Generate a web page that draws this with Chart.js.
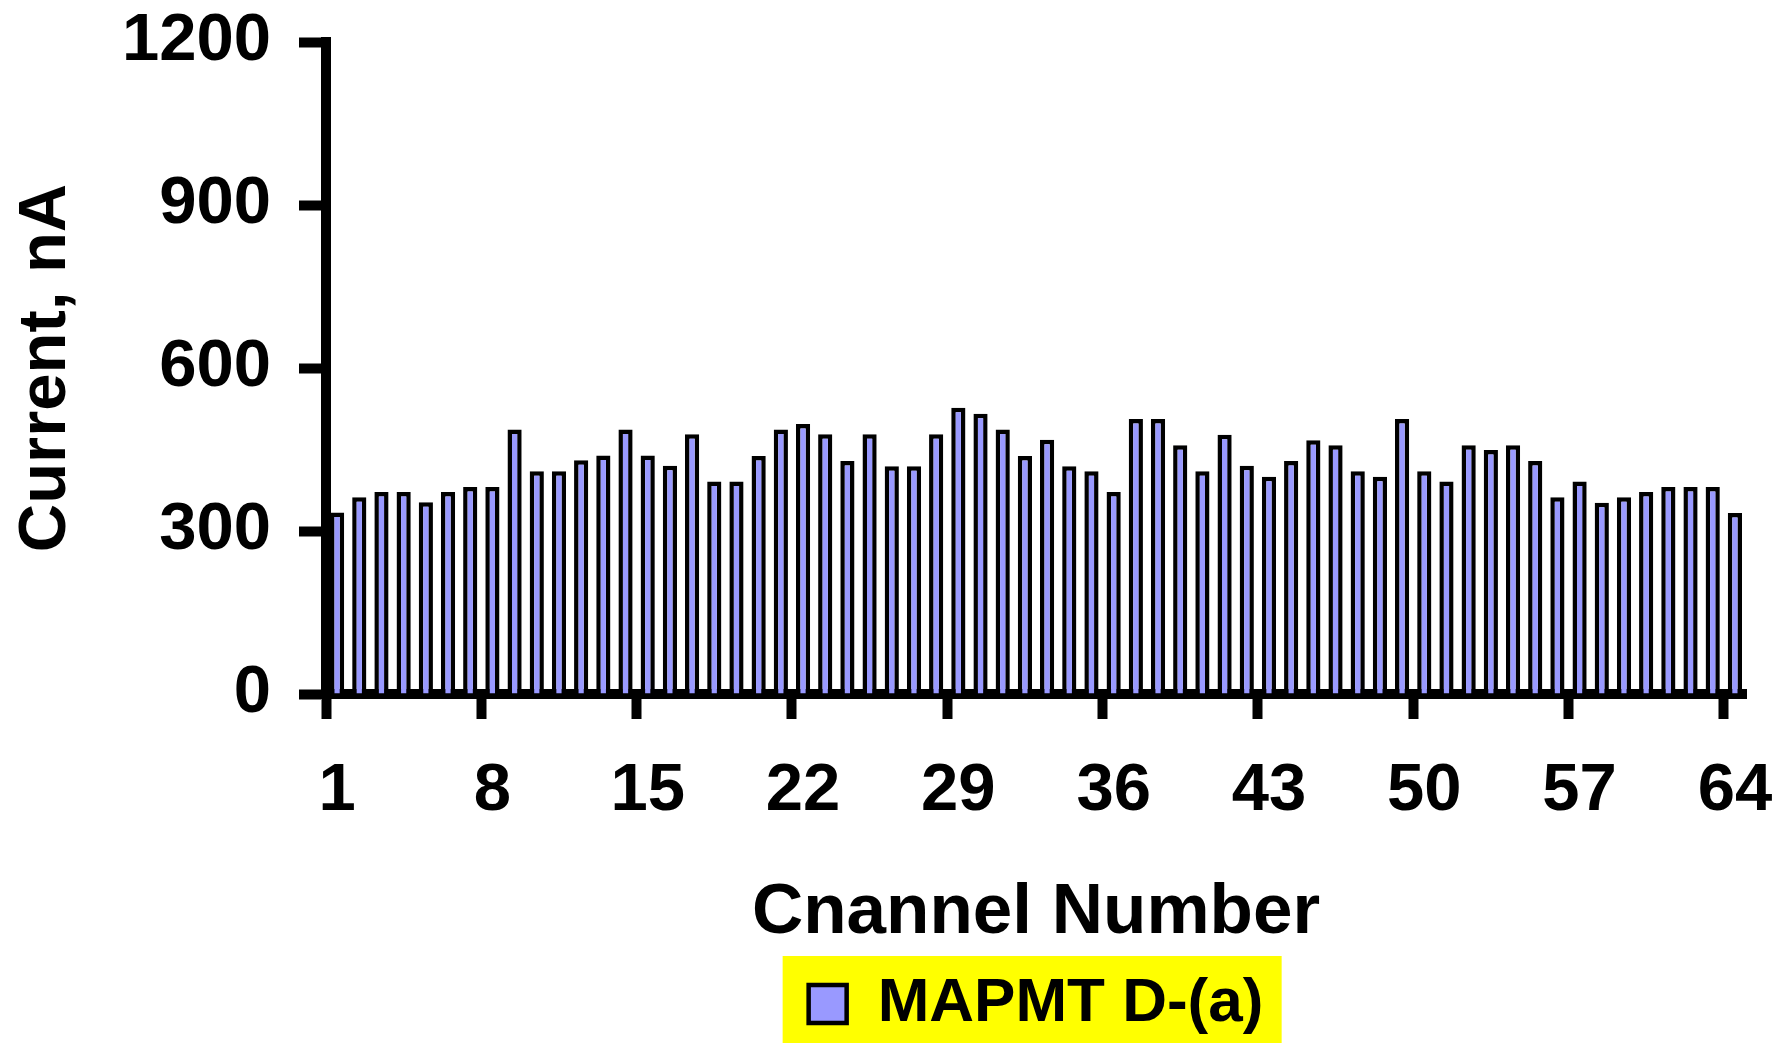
<!DOCTYPE html>
<html>
<head>
<meta charset="utf-8">
<script src="https://cdn.jsdelivr.net/npm/chart.js@4.4.1/dist/chart.umd.min.js"></script>
<style>
  html, body { margin: 0; padding: 0; background: #fff; }
  canvas { display: block; }
</style>
</head>
<body>
<canvas id="chart" width="1773" height="1043" style="width:1773px;height:1043px"></canvas>
<script>
// channel numbers 1..64
const channels = ['1','2','3','4','5','6','7','8','9','10','11','12','13','14','15','16',
    '17','18','19','20','21','22','23','24','25','26','27','28','29','30','31','32',
    '33','34','35','36','37','38','39','40','41','42','43','44','45','46','47','48',
    '49','50','51','52','53','54','55','56','57','58','59','60','61','62','63','64'];

// anode current per channel, nA
const currents = [334, 362, 372, 372, 353, 372, 381, 381, 487, 410, 410, 430, 439, 487, 439, 420,
    478, 391, 391, 438, 487, 497, 478, 429, 478, 419, 419, 478, 527, 516, 487, 438,
    468, 419, 410, 372, 506, 506, 458, 410, 477, 420, 400, 429, 467, 458, 410, 400,
    506, 410, 391, 458, 449, 458, 429, 362, 391, 352, 362, 372, 381, 381, 381, 333];

const labeledChannels = ['1', '8', '15', '22', '29', '36', '43', '50', '57', '64'];
const yTicks = [0, 300, 600, 900, 1200];

Chart.defaults.font.family = '"Liberation Sans", Arial, sans-serif';
Chart.defaults.font.weight = 'bold';
Chart.defaults.color = '#000';

// yellow panel behind the legend
const legendBackground = {
    id: 'legendBackground',
    beforeDraw(chart) {
        const box = chart.legend && chart.legend.legendHitBoxes[0];
        if (!box) return;
        const ctx = chart.ctx;
        ctx.save();
        ctx.fillStyle = '#ffff00';
        ctx.fillRect(box.left - 26, box.top - 17, 499, chart.height - box.top + 17);
        ctx.restore();
    }
};

new Chart(document.getElementById('chart'), {
    type: 'bar',
    data: {
        labels: channels,
        datasets: [{
            label: 'MAPMT D-(a)',
            data: currents,
            backgroundColor: '#9999ff',
            borderColor: '#000',
            borderWidth: 4.5,
            inflateAmount: 0,
            barPercentage: 0.64,
            categoryPercentage: 1
        }]
    },
    options: {
        responsive: false,
        animation: false,
        layout: { padding: { top: 42, right: 27, bottom: -2, left: 0 } },
        plugins: {
            tooltip: { enabled: false },
            legend: {
                position: 'bottom',
                fullSize: false,
                labels: {
                    boxWidth: 38,
                    boxHeight: 38,
                    padding: 16,
                    color: '#000',
                    font: { size: 62, weight: 'bold' }
                }
            }
        },
        scales: {
            x: {
                offset: true,
                afterFit: scale => {
                    scale.height = 263;
                    scale.paddingLeft = 0;
                    scale.paddingRight = 0;
                },
                grid: {
                    offset: true,
                    drawOnChartArea: false,
                    drawTicks: true,
                    tickLength: 25,
                    tickWidth: 10,
                    tickColor: ctx => (ctx.tick && ctx.tick.label !== '') ? '#000' : 'rgba(0,0,0,0)'
                },
                border: { color: '#000', width: 10 },
                ticks: {
                    autoSkip: false,
                    maxRotation: 0,
                    minRotation: 0,
                    padding: 32,
                    font: { size: 67, weight: 'bold' },
                    callback: function(value) {
                        const lab = this.getLabelForValue(value);
                        return labeledChannels.includes(lab) ? lab : '';
                    }
                },
                title: {
                    display: true,
                    text: 'Cnannel Number',
                    font: { size: 71, weight: 'bold' },
                    padding: { top: 0, bottom: 1.4 }
                }
            },
            y: {
                min: yTicks[0],
                max: yTicks[yTicks.length - 1],
                afterFit: scale => {
                    scale.width = 326;
                    scale.paddingTop = 0;
                    scale.paddingBottom = 0;
                },
                grid: {
                    drawOnChartArea: false,
                    drawTicks: true,
                    tickLength: 27,
                    tickWidth: 10,
                    tickColor: '#000'
                },
                border: { color: '#000', width: 10 },
                ticks: {
                    stepSize: yTicks[1] - yTicks[0],
                    padding: 28,
                    font: { size: 67, weight: 'bold' },
                    callback: v => String(v)
                },
                title: {
                    display: true,
                    text: 'Current, nA',
                    font: { size: 67, weight: 'bold' },
                    padding: { top: 6, bottom: 0 }
                }
            }
        }
    },
    plugins: [legendBackground]
});
</script>
</body>
</html>
